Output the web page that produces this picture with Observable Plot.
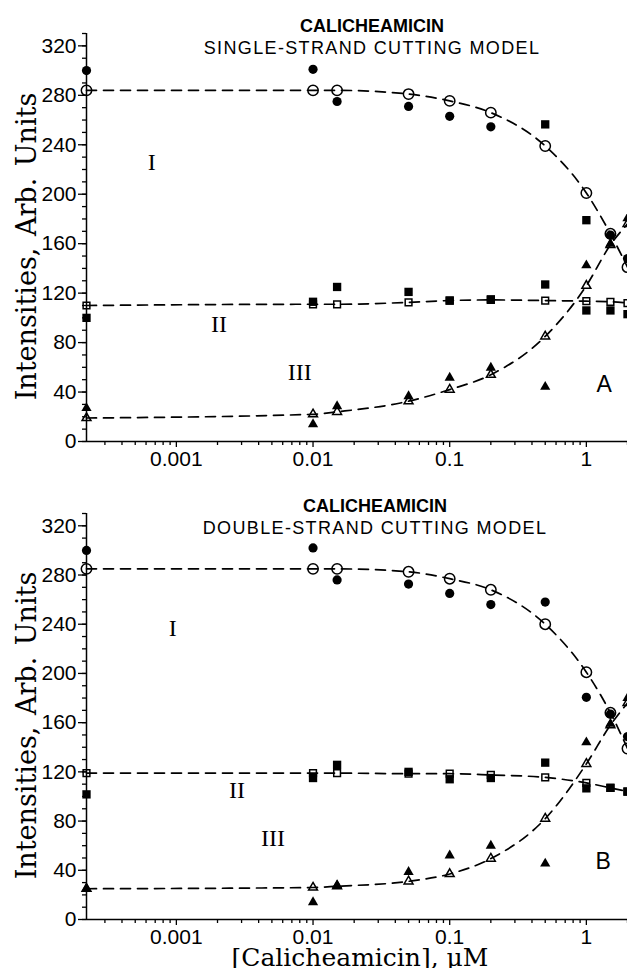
<!DOCTYPE html>
<html><head><meta charset="utf-8">
<script src="https://cdn.jsdelivr.net/npm/d3@7"></script>
<script src="https://cdn.jsdelivr.net/npm/@observablehq/plot@0.6"></script>
<style>
body{margin:0;background:#fff;}
#chart{width:627px;height:968px;overflow:hidden;}
#chart svg{display:block;}
</style></head><body><div id="chart"></div>
<script>
// concentrations (µM); first column is the zero-drug control drawn at the axis
const conc = [0.00022, 0.01, 0.015, 0.05, 0.1, 0.2, 0.5, 1, 1.5, 2];

// Panel A — single-strand cutting model
const modelI_A   = [284, 284, 284, 281, 275.5, 266, 239, 201, 168, 141];
const modelII_A  = [110, 111, 111, 112.5, 114, 114.5, 114, 113.5, 113, 112];
const modelIII_A = [19, 22, 24, 32.6, 42, 54, 85, 126, 159, 176];
const formI_A    = [300, 301, 275, 271, 263, 254.5, null, null, 167, 148];
const formII_A   = [100, 113, 125, 121, 114, 115, 127, 106, 106, 103];
const formIIhi_A = [null, null, null, null, null, null, 256.5, 179, null, null];
const formIII_A  = [27, 14, 28.5, 36.6, 51.6, 59.7, 44.2, 142.5, 160, 180.5];

// Panel B — double-strand cutting model
const modelI_B   = [285, 285, 285, 282.6, 277, 268, 240, 201, 168, 139];
const modelII_B  = [119, 119, 119, 118.5, 118.5, 117.5, 115.5, 111, 107, 104];
const modelIII_B = [25, 26, 27, 31, 37, 49.5, 82, 126.5, 158, 176];
const formI_B    = [300, 302, 276, 272.6, 265, 256, 258, 180.6, 167, 148.7];
const formII_B   = [101.7, 115, 125.7, 120, 114, 115, 127.5, 106.6, 107, 104];
const formIIhi_B = [null, null, null, null, null, null, null, null, null, null];
const formIII_B  = [25, 14, 28, 38.6, 52, 60, 45.4, 144, 159, 180];

// tick labels
const yMajor = [0, 40, 80, 120, 160, 200, 240, 280, 320];
const yMinor = d3.range(0, 331, 10);
const xMajor = [0.001, 0.01, 0.1, 1];
const xMinor = [0.0003,0.0004,0.0005,0.0006,0.0007,0.0008,0.0009,
  0.002,0.003,0.004,0.005,0.006,0.007,0.008,0.009,
  0.02,0.03,0.04,0.05,0.06,0.07,0.08,0.09,
  0.2,0.3,0.4,0.5,0.6,0.7,0.8,0.9,2];

const regionLabels = ["I", "II", "III"];
const title = "CALICHEAMICIN";
const subtitleA = "SINGLE-STRAND CUTTING MODEL";
const subtitleB = "DOUBLE-STRAND CUTTING MODEL";
const yLabel = "Intensities, Arb. Units";
const xLabel = "[Calicheamicin], μM";

const xMin = 0.00022, xMax = 2;

function panel(p) {
  const rows = conc.map((c, i) => ({
    c, mI: p.mI[i], mII: p.mII[i], mIII: p.mIII[i],
    fI: p.fI[i], fII: p.fII[i], fIIhi: p.fIIhi[i], fIII: p.fIII[i]
  }));
  const has = k => rows.filter(d => d[k] != null);
  const dash = {x: "c", stroke: "black", strokeWidth: 1.7, strokeDasharray: "10,7", curve: "monotone-x"};
  const open = {x: "c", fill: "none", stroke: "black", strokeWidth: 1.5};
  const marks = [
    Plot.ruleY([0], {stroke: "black", strokeWidth: 1.5}),
    Plot.ruleX([xMin], {y1: 0, y2: 330, stroke: "black", strokeWidth: 1.5}),
    Plot.axisY({ticks: yMinor, tickSize: 4, tickFormat: () => "", label: null, strokeWidth: 1.3}),
    Plot.axisY({ticks: yMajor, tickSize: 8, tickPadding: 2, tickFormat: d => String(d), label: null, fontSize: 21, strokeWidth: 1.3}),
    Plot.axisX({ticks: xMinor, tickSize: 4, tickFormat: () => "", label: null, strokeWidth: 1.3}),
    Plot.axisX({ticks: xMajor, tickSize: 6, tickPadding: 4, tickFormat: d => String(d), label: null, fontSize: 21, strokeWidth: 1.3}),
    Plot.line(rows, {...dash, y: "mI"}),
    Plot.line(rows, {...dash, y: "mII"}),
    Plot.line(rows, {...dash, y: "mIII"}),
    Plot.dot(rows, {...open, y: "mI", symbol: "circle", r: 5.2}),
    Plot.dot(rows, {...open, y: "mII", symbol: "square", r: 3.8}),
    Plot.dot(rows, {...open, y: "mIII", symbol: "triangle", r: 3.3}),
    Plot.dot(has("fI"), {x: "c", y: "fI", symbol: "circle", r: 4.6, fill: "black"}),
    Plot.dot(has("fII"), {x: "c", y: "fII", symbol: "square", r: 4.7, fill: "black"}),
    Plot.dot(has("fIIhi"), {x: "c", y: "fIIhi", symbol: "square", r: 4.7, fill: "black"}),
    Plot.dot(has("fIII"), {x: "c", y: "fIII", symbol: "triangle", r: 3.8, fill: "black"}),
    Plot.text(regionLabels, {x: p.labelX, y: p.labelY, text: d => d, fontFamily: "'Liberation Serif', serif", fontSize: 24, fontWeight: 500}),
    Plot.text([p.letter], {x: [p.letterX], y: [p.letterY], text: d => d, fontFamily: "'Liberation Sans', sans-serif", fontSize: 23}),
    Plot.text([title], {frameAnchor: "top", dx: p.titleDx, dy: -2, lineAnchor: "bottom", fontWeight: "bold", fontSize: 18}),
    Plot.text([p.subtitle], {frameAnchor: "top", dx: p.titleDx, dy: 20, lineAnchor: "bottom", fontSize: 18}),
    Plot.text([yLabel], {frameAnchor: "left", textAnchor: "middle", rotate: -90, dx: -59, dy: 9, fontFamily: "'DejaVu Serif', serif", fontSize: 27})
  ];
  if (p.showXLabel) {
    marks.push(Plot.text([xLabel], {frameAnchor: "bottom", dx: 3, dy: 46, lineAnchor: "bottom", fontFamily: "'DejaVu Serif', serif", fontSize: 25}));
  }
  const svg = Plot.plot({
    width: 627, height: p.height,
    marginLeft: 86, marginRight: 0, marginTop: 33, marginBottom: p.marginBottom,
    style: {fontFamily: "'Liberation Sans', Arial, sans-serif", fontSize: "21px", background: "white", color: "black", overflow: "visible"},
    x: {type: "log", domain: [xMin, xMax], axis: null},
    y: {domain: [0, 330], axis: null},
    marks
  });
  d3.select(svg).selectAll("text")
    .filter(function () { return this.textContent === p.subtitle; })
    .style("letter-spacing", "1.35px");
  d3.select(svg).selectAll("text")
    .filter(function () { return this.textContent === yLabel; })
    .style("word-spacing", "3px");
  return svg;
}

const chart = document.getElementById("chart");
chart.append(panel({
  height: 480, marginBottom: 39,
  mI: modelI_A, mII: modelII_A, mIII: modelIII_A,
  fI: formI_A, fII: formII_A, fIIhi: formIIhi_A, fIII: formIII_A,
  labelX: [0.00066, 0.00205, 0.008], labelY: [226, 94.5, 55.6],
  letter: "A", letterX: 1.35, letterY: 46,
  subtitle: subtitleA, titleDx: 15, showXLabel: false
}));
chart.append(panel({
  height: 488, marginBottom: 49,
  mI: modelI_B, mII: modelII_B, mIII: modelIII_B,
  fI: formI_B, fII: formII_B, fIIhi: formIIhi_B, fIII: formIII_B,
  labelX: [0.00094, 0.00278, 0.0051], labelY: [237, 105, 66],
  letter: "B", letterX: 1.33, letterY: 46.8,
  subtitle: subtitleB, titleDx: 18, showXLabel: true
}));
</script></body></html>
